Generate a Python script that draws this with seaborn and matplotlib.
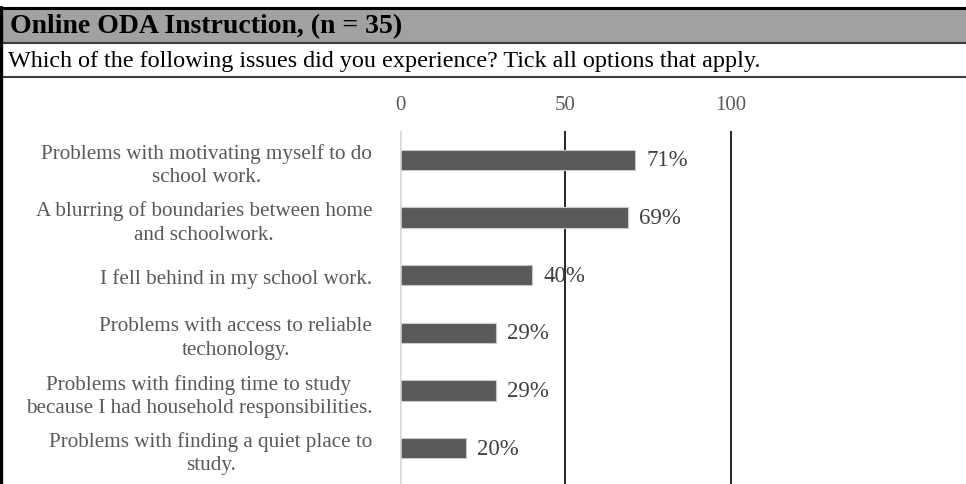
import matplotlib
matplotlib.use("Agg")
import matplotlib.pyplot as plt
import seaborn as sns
import pandas as pd
from matplotlib.patches import Rectangle
from matplotlib.lines import Line2D

# ---- data ----
title = "Online ODA Instruction, (n = 35)"
question = "Which of the following issues did you experience? Tick all options that apply."
categories = [
    "Problems with motivating myself to do\nschool work.",
    "A blurring of boundaries between home\nand schoolwork.",
    "I fell behind in my school work.",
    "Problems with access to reliable\ntechonology.",
    "Problems with finding time to study\nbecause I had household responsibilities.",
    "Problems with finding a quiet place to\nstudy.",
]
values = [71, 69, 40, 29, 29, 20]
value_labels = ["71%", "69%", "40%", "29%", "29%", "20%"]
xticks = [0, 50, 100]

sns.set_theme(style="white")
plt.rcParams["font.family"] = ["Liberation Serif", "DejaVu Serif"]

W, H = 966, 485
fig = plt.figure(figsize=(W / 100, H / 100), dpi=100)
fig.patch.set_facecolor("white")


def fx(px):
    return px / W


def fy(py):
    return 1 - py / H


# header band
fig.patches.append(Rectangle((0, fy(43)), 1, fy(10) - fy(43), transform=fig.transFigure,
                             facecolor="#a0a1a3", edgecolor="none", zorder=0))
fig.lines.append(Line2D([0, 1], [fy(9), fy(9)], transform=fig.transFigure, color="black", lw=2.2))
fig.lines.append(Line2D([0, 1], [fy(43.5), fy(43.5)], transform=fig.transFigure, color="#3c3c3c", lw=1.5))
fig.lines.append(Line2D([0, 1], [fy(78), fy(78)], transform=fig.transFigure, color="#3c3c3c", lw=1.5))
fig.lines.append(Line2D([fx(1.2), fx(1.2)], [fy(8), 0], transform=fig.transFigure, color="black", lw=2.4))

fig.text(fx(10), fy(27), title, fontsize=20, fontweight="bold", color="black", va="center", ha="left")
fig.text(fx(8), fy(61), question, fontsize=17.4, color="black", va="center", ha="left")

# chart
ax = fig.add_axes([fx(400), 0, 1 - fx(400), fy(132)])
df = pd.DataFrame({"cat": categories, "val": values})
sns.barplot(data=df, y="cat", x="val", orient="h", color="#595959", saturation=1,
            width=0.35, edgecolor="#c8c8c8", linewidth=0.8, ax=ax, zorder=3)

ax.set_xlim(0, 171)
ax.set_ylim(5.62, -0.5)
ax.axvline(50, color="black", lw=1.2, zorder=2)
ax.axvline(100, color="black", lw=1.2, zorder=2)
ax.axvline(0, color="#d9d9d9", lw=1.8, zorder=4)

for s in ax.spines.values():
    s.set_visible(False)
ax.set_xlabel("")
ax.set_ylabel("")
ax.xaxis.tick_top()
ax.set_xticks(xticks)
ax.set_xticklabels([str(t) for t in xticks])
ax.tick_params(axis="x", length=0, pad=12, labelsize=15, labelcolor="#595959")
ax.tick_params(axis="y", length=0, pad=20, labelsize=15.2, labelcolor="#595959")
for lbl in ax.get_yticklabels():
    lbl.set_multialignment("center")
    lbl.set_linespacing(1.3)

ax.bar_label(ax.containers[0], labels=value_labels, padding=8, fontsize=16.5, color="#404040")

fig.savefig("out.png", dpi=100)
